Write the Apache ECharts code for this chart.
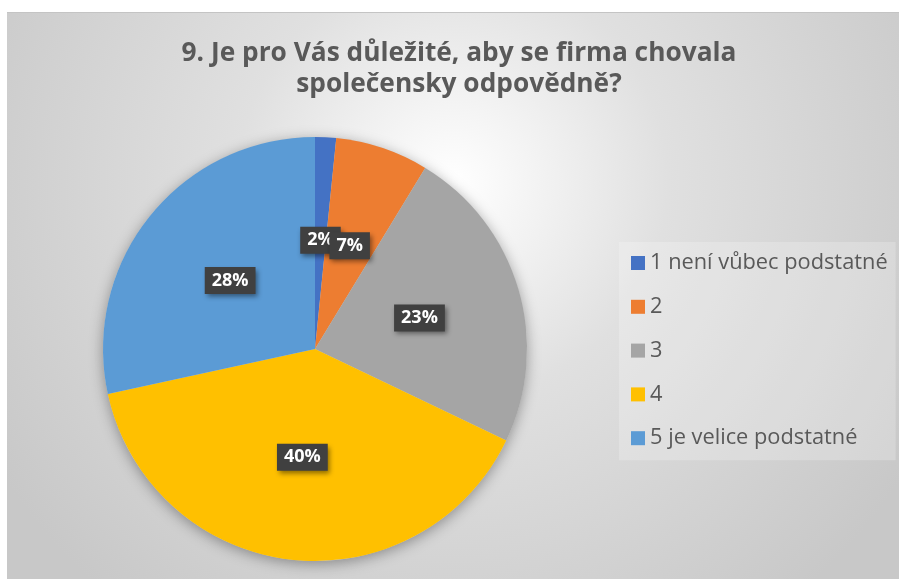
<!DOCTYPE html>
<html>
<head>
<meta charset="utf-8">
<script src="https://cdn.jsdelivr.net/npm/echarts@6/dist/echarts.min.js"></script>
<style>
  html, body { margin: 0; padding: 0; background: #fff; }
  #chart {
    position: absolute;
    left: 7px;
    top: 12px;
    width: 892px;
    height: 566px;
    border-top: 1px solid #c4c4c4;
  }
</style>
</head>
<body>
<div id="chart"></div>
<script>
// odpovědi (kategorie) a podíly v %
const categories = ['1 není vůbec podstatné', '2', '3', '4', '5 je velice podstatné'];
const shares = [1.6, 7.1, 23.4, 39.5, 28.4];
const colors = ['#4472C4', '#ED7D31', '#A5A5A5', '#FFC000', '#5B9BD5'];
const titleText = '9. Je pro Vás důležité, aby se firma chovala\nspolečensky odpovědně?';

const font = '"Open Sans", "Noto Sans", sans-serif';

const chart = echarts.init(document.getElementById('chart'));

const pieData = categories.map((name, i) => ({
  name: name,
  value: shares[i],
  itemStyle: { color: colors[i] },
}));

const option = {
  animation: false,
  backgroundColor: {
    type: 'radial',
    x: 0.5,
    y: 0.3,
    r: 0.95,
    colorStops: [
      { offset: 0, color: '#ffffff' },
      { offset: 0.4, color: '#e0e0e0' },
      { offset: 1, color: '#c8c8c8' },
    ],
  },
  // nadpis jako text (přesné vycentrování nad grafem)
  graphic: [
    {
      type: 'text',
      x: 452,
      y: 25,
      style: {
        text: titleText,
        align: 'center',
        verticalAlign: 'top',
        fontFamily: font,
        fontSize: 26.3,
        fontWeight: 'bold',
        lineHeight: 31,
        fill: '#595959',
      },
    },
  ],
  legend: {
    orient: 'vertical',
    left: 612,
    top: 229,
    padding: [10, 8, 11, 12],
    backgroundColor: 'rgba(255,255,255,0.22)',
    itemWidth: 14,
    itemHeight: 14,
    itemGap: 21.8,
    icon: 'rect',
    selectedMode: false,
    data: categories,
    textStyle: {
      fontFamily: font,
      fontSize: 21.8,
      lineHeight: 22,
      color: '#595959',
    },
  },
  series: [
    {
      // stín pod koláčem
      type: 'pie',
      silent: true,
      center: [308, 336],
      radius: 212,
      label: { show: false },
      labelLine: { show: false },
      legendHoverLink: false,
      data: [{ value: 1, name: '', itemStyle: { color: '#d0d0d0' } }],
      itemStyle: {
        shadowBlur: 14,
        shadowColor: 'rgba(0,0,0,0.35)',
        shadowOffsetY: 3,
      },
      tooltip: { show: false },
    },
    {
      type: 'pie',
      center: [308, 336],
      radius: 212,
      startAngle: 90,
      clockwise: true,
      avoidLabelOverlap: false,
      data: pieData,
      label: {
        show: true,
        position: 'inside',
        formatter: (p) => Math.round(p.value) + '%',
        fontFamily: font,
        fontSize: 18,
        fontWeight: 'bold',
        color: '#ffffff',
        backgroundColor: '#404040',
        padding: [5, 7, 4, 7],
        shadowColor: 'rgba(0,0,0,0.45)',
        shadowBlur: 5,
        shadowOffsetX: 2,
        shadowOffsetY: 3,
      },
      labelLayout: { hideOverlap: false },
      labelLine: { show: false },
      emphasis: { disabled: true },
    },
  ],
};

chart.setOption(option);
</script>
</body>
</html>
